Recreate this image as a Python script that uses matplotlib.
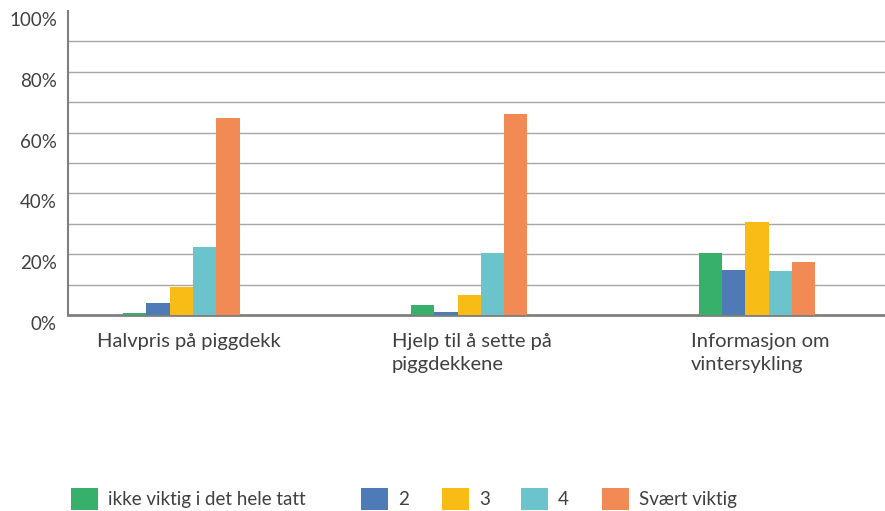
import matplotlib.pyplot as plt
import matplotlib.transforms as mtransforms
from matplotlib.patches import Rectangle
import numpy as np

plt.rcParams['font.family'] = ['Lato', 'DejaVu Sans']

categories = ["Halvpris på piggdekk", "Hjelp til å sette på\npiggdekkene", "Informasjon om\nvintersykling"]
series_names = ["ikke viktig i det hele tatt", "2", "3", "4", "Svært viktig"]
ikke_viktig = [0.6, 3.3, 20.3]
to = [4.0, 0.9, 14.8]
tre = [9.1, 6.5, 30.6]
fire = [22.5, 20.3, 14.5]
svaert_viktig = [64.9, 66.0, 17.5]
colors = ["#37B06C", "#4E7BB6", "#F7BD16", "#6BC4CB", "#F18A54"]

text_col = "#404040"

fig = plt.figure(figsize=(8.85, 5.11), dpi=100)
ax = fig.add_axes([68 / 885, 1 - 315 / 511, 1 - 68 / 885, 304 / 511])

x = np.arange(len(categories))
w = 0.081
values = [ikke_viktig, to, tre, fire, svaert_viktig]
for i, (vals, c) in enumerate(zip(values, colors)):
    ax.bar(x + (i - 2) * w, vals, width=w, color=c, zorder=3)

ax.set_xlim(-0.394, 2.445)
ax.set_ylim(0, 100)
for g in range(10, 100, 10):
    ax.axhline(g, color="#a6a6a6", lw=1, zorder=1)

ax.set_yticks(range(0, 101, 20))
ax.set_yticklabels([f"{v}%" for v in range(0, 101, 20)], fontsize=13.5, color=text_col)
ax.tick_params(axis='y', length=0, pad=8)
offset = mtransforms.ScaledTranslation(0, -8 / 100, fig.dpi_scale_trans)
for lab in ax.get_yticklabels():
    lab.set_transform(lab.get_transform() + offset)

ax.set_xticks([])
label_shift = [0.294, 0.268, 0.229]
for xi, cat, sh in zip(x, categories, label_shift):
    ax.text(xi - sh, -0.058, cat, transform=ax.get_xaxis_transform(),
            ha='left', va='top', fontsize=14.5, color=text_col, linespacing=1.45)

for s in ['top', 'right']:
    ax.spines[s].set_visible(False)
ax.spines['left'].set_color("#7f7f7f")
ax.spines['left'].set_linewidth(1.5)
ax.spines['bottom'].set_color("#7f7f7f")
ax.spines['bottom'].set_linewidth(2)

# legend drawn by hand to match the spacing of the original
leg_x = [71, 361, 442, 521, 602]
for px, name, c in zip(leg_x, series_names, colors):
    fig.patches.append(Rectangle((px / 885, 1 - 510 / 511), 27 / 885, 22 / 511,
                                 transform=fig.transFigure, facecolor=c, edgecolor='none'))
    fig.text((px + 37) / 885, 1 - 499 / 511, name, ha='left', va='center',
             fontsize=13.5, color=text_col)

fig.savefig("out.png", dpi=100)
